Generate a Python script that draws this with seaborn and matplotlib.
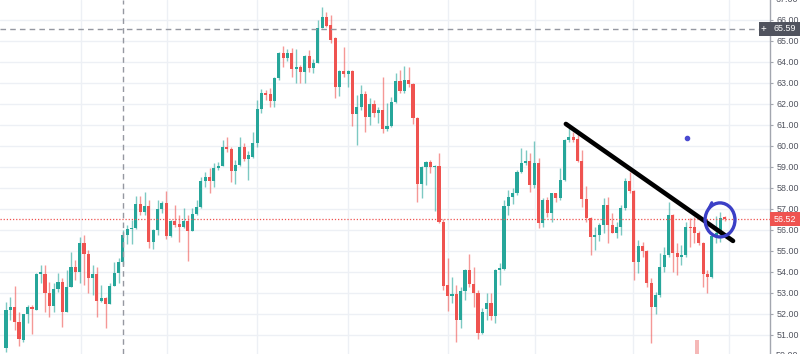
import matplotlib
matplotlib.use("Agg")
import matplotlib.pyplot as plt
from matplotlib.patches import Rectangle, Ellipse
import seaborn as sns
import pandas as pd

# ---- data ----
opens = [50.40, 52.19, 52.35, 51.63, 50.76, 52.00, 52.35, 52.19, 53.89, 53.89,
         53.02, 52.38, 53.19, 53.54, 52.11, 53.27, 54.22, 54.02, 55.37, 54.86,
         53.70, 53.89, 52.63, 52.75, 52.48, 53.33, 53.94, 54.49, 55.76, 56.05,
         56.08, 57.24, 56.84, 57.14, 55.44, 56.00, 56.98, 57.27, 55.71, 56.44,
         56.29, 56.16, 56.44, 55.97, 56.75, 57.08, 58.33, 58.51, 58.35, 58.94,
         59.05, 59.97, 59.86, 58.83, 59.10, 59.97, 59.37, 59.49, 60.16, 61.75,
         62.54, 62.46, 62.16, 63.22, 64.44, 64.20, 64.44, 63.65, 63.78, 63.54,
         64.29, 63.70, 63.97, 65.63, 66.16, 65.76, 65.13, 62.79, 63.59, 63.43,
         63.59, 61.52, 61.84, 62.48, 61.40, 61.98, 61.56, 61.71, 60.79, 60.95,
         62.11, 63.11, 62.63, 63.14, 62.95, 61.32, 58.19, 59.02, 59.25, 59.02,
         59.05, 56.40, 53.38, 52.86, 52.94, 51.71, 53.11, 54.10, 53.43, 53.02,
         51.08, 52.22, 52.54, 51.90, 54.10, 54.14, 57.14, 57.59, 57.75, 58.78,
         59.21, 59.29, 58.14, 59.20, 56.32, 57.43, 56.79, 57.75, 57.51, 58.38,
         60.29, 60.41, 60.32, 59.30, 57.46, 56.56, 55.65, 55.76, 56.24, 57.19,
         56.24, 55.87, 56.14, 57.06, 58.35, 57.87, 54.49, 55.24, 55.02, 53.46,
         52.32, 52.90, 54.25, 54.81, 56.71, 54.92, 54.73, 54.81, 56.16, 56.13,
         55.87, 55.40, 53.90, 53.78, 55.71, 55.87, 56.60]
highs = [52.59, 52.83, 53.33, 52.11, 52.00, 52.43, 52.43, 53.94, 54.33, 54.33,
         53.54, 53.46, 53.94, 53.70, 54.10, 54.97, 54.57, 55.68, 55.76, 55.05,
         54.33, 54.22, 53.38, 52.83, 53.46, 54.49, 54.65, 56.00, 56.24, 56.48,
         57.62, 57.62, 57.79, 57.43, 56.03, 57.43, 57.40, 57.87, 56.48, 57.19,
         56.71, 57.03, 56.71, 57.03, 57.43, 58.51, 58.78, 58.94, 59.17, 59.25,
         60.29, 60.41, 59.97, 59.33, 60.41, 60.16, 59.75, 60.68, 62.19, 62.70,
         62.67, 62.75, 63.27, 64.49, 64.76, 64.60, 64.65, 64.60, 63.86, 64.33,
         64.57, 64.13, 66.00, 66.60, 66.40, 66.24, 65.17, 63.62, 64.73, 63.62,
         63.62, 62.43, 62.90, 62.60, 62.27, 62.19, 61.87, 63.30, 62.03, 62.32,
         63.46, 63.62, 63.81, 63.78, 62.98, 61.37, 59.05, 59.30, 59.33, 59.10,
         59.65, 56.50, 54.65, 53.78, 53.38, 53.27, 54.13, 54.86, 54.25, 53.14,
         52.30, 53.02, 53.02, 54.13, 54.44, 57.43, 57.90, 57.98, 58.86, 59.89,
         59.81, 59.68, 60.25, 59.41, 57.50, 57.56, 57.78, 57.78, 58.94, 60.32,
         60.84, 60.68, 60.57, 59.81, 58.10, 56.63, 56.16, 56.32, 57.51, 57.59,
         56.79, 56.40, 57.19, 58.46, 58.78, 57.90, 55.52, 55.44, 55.05, 53.70,
         53.06, 54.89, 55.21, 57.35, 56.75, 55.40, 55.29, 56.40, 56.56, 56.63,
         55.97, 55.44, 54.10, 55.76, 56.67, 56.87, 56.67]
lows = [50.20, 51.71, 51.24, 50.48, 50.68, 51.56, 51.05, 52.19, 53.46, 52.11,
        51.87, 52.11, 53.05, 51.40, 52.11, 53.27, 53.62, 53.46, 53.38, 52.98,
        52.90, 51.87, 52.59, 51.32, 52.48, 53.33, 53.46, 54.33, 55.33, 55.33,
        56.05, 56.71, 56.71, 55.13, 55.08, 55.76, 56.80, 55.56, 55.68, 56.16,
        55.44, 56.10, 54.54, 55.97, 56.71, 57.03, 58.03, 57.75, 58.06, 58.86,
        59.05, 59.73, 58.30, 58.19, 59.05, 59.30, 58.40, 59.41, 59.97, 61.59,
        62.19, 61.87, 61.84, 63.14, 63.78, 64.06, 63.30, 62.98, 63.02, 63.02,
        63.54, 63.49, 63.94, 65.60, 65.68, 64.89, 62.27, 62.38, 63.30, 62.79,
        60.95, 60.05, 61.70, 60.68, 61.00, 61.40, 61.08, 60.63, 60.73, 60.92,
        62.06, 62.51, 62.51, 62.83, 61.05, 57.35, 57.51, 58.14, 58.70, 56.92,
        56.35, 53.14, 52.16, 52.51, 50.68, 51.32, 52.67, 53.30, 52.35, 50.79,
        51.05, 51.71, 51.71, 51.59, 53.38, 54.10, 56.71, 57.24, 57.68, 58.73,
        59.10, 57.83, 57.98, 56.08, 56.13, 56.63, 56.40, 57.35, 57.43, 58.35,
        60.20, 60.20, 59.25, 57.11, 56.40, 54.81, 55.05, 55.49, 55.84, 55.36,
        55.84, 55.60, 55.76, 56.95, 57.75, 53.62, 53.94, 54.73, 53.30, 50.60,
        52.00, 52.83, 54.00, 54.73, 54.02, 53.86, 54.33, 54.73, 55.21, 55.36,
        55.29, 53.30, 53.02, 53.70, 55.40, 55.44, 56.45]
closes = [52.19, 52.35, 51.63, 50.79, 52.00, 52.35, 52.22, 53.89, 54.00, 52.98,
          52.38, 53.19, 53.54, 52.11, 53.27, 54.22, 54.02, 55.37, 54.86, 53.70,
          53.89, 52.63, 52.75, 52.48, 53.33, 53.94, 54.49, 55.76, 56.05, 56.10,
          57.24, 56.84, 57.14, 55.44, 56.00, 56.98, 57.27, 55.71, 56.44, 56.24,
          56.16, 56.44, 55.97, 56.75, 57.08, 58.33, 58.51, 58.35, 58.94, 59.05,
          59.97, 59.86, 58.83, 59.10, 59.97, 59.37, 59.55, 60.16, 61.75, 62.54,
          62.43, 62.16, 63.22, 64.44, 64.17, 64.44, 63.65, 63.78, 63.54, 64.29,
          63.70, 63.97, 65.63, 66.16, 65.71, 65.05, 62.79, 63.59, 63.43, 63.59,
          61.52, 61.84, 62.48, 61.40, 61.98, 61.56, 61.71, 60.79, 60.95, 62.11,
          63.11, 62.63, 63.14, 62.95, 61.32, 58.19, 59.02, 59.25, 59.02, 59.05,
          56.40, 53.33, 52.86, 52.94, 51.71, 53.11, 54.10, 53.43, 53.02, 51.08,
          52.10, 52.54, 51.90, 54.10, 54.17, 57.14, 57.59, 57.75, 58.78, 59.21,
          59.29, 58.14, 59.17, 56.32, 57.43, 56.79, 57.75, 57.51, 58.38, 60.29,
          60.41, 60.30, 59.30, 57.46, 56.56, 55.65, 55.76, 56.24, 57.19, 56.24,
          55.87, 56.14, 57.06, 58.35, 57.87, 54.49, 55.24, 55.02, 53.46, 52.32,
          52.90, 54.25, 54.81, 56.71, 54.92, 54.73, 54.81, 56.16, 56.08, 55.87,
          55.40, 53.90, 53.78, 55.71, 55.87, 56.56, 56.52]

price_ticks = list(range(51, 67))
price_labels = [f"{p:.2f}" for p in price_ticks]
time_grid = [17.3, 37.2, 58.0, 79.0, 102.1, 122.2, 144.8, 167.0]
crosshair_x = 27.0
crosshair_price = 65.59
last_price = 56.52
trend_x = [129.3, 167.9]
trend_y = [61.05, 55.48]
circle_xy = (164.9, 56.48)
dot_x, dot_y = [157.3], [60.38]
vol_x, vol_top = [159.6], [50.76]

UP, DOWN = "#26a69a", "#ef5350"

sns.set_style("white")
plt.rcParams["font.family"] = ["Liberation Sans", "DejaVu Sans"]

df = pd.DataFrame({"open": opens, "high": highs, "low": lows, "close": closes})
df["idx"] = range(len(df))
df["up"] = df["close"] >= df["open"]
df["color"] = df["up"].map({True: UP, False: DOWN})
df["bottom"] = df[["open", "close"]].min(axis=1)
df["height"] = (df["close"] - df["open"]).abs().clip(lower=0.05)

W, H = 800, 354
fig = plt.figure(figsize=(W / 100, H / 100), dpi=100)
ax = fig.add_axes([0, 0, 770 / W, 1])
ax.set_xlim(-1.386, 176.44)
ax.set_ylim(50.095, 66.952)

# grid
ax.set_yticks(price_ticks)
ax.set_yticklabels(price_labels)
ax.set_xticks(time_grid)
ax.grid(True, color="#edf0f5", linewidth=1, zorder=0)
ax.set_axisbelow(True)
ax.tick_params(axis="x", bottom=False, labelbottom=False)
ax.yaxis.tick_right()
ax.tick_params(axis="y", right=True, left=False, direction="out", length=2.5,
               width=0.8, color="#a3a6af", labelsize=6.4, labelcolor="#50535e", pad=2)
for s in ["top", "left", "bottom"]:
    ax.spines[s].set_visible(False)
ax.spines["right"].set_color("#a3a6af")
ax.spines["right"].set_linewidth(1)

# volume remnant at bottom
ax.bar(vol_x, [t - 49.0 for t in vol_top], bottom=49.0, width=0.85,
       color="#f5b8b7", linewidth=0, zorder=1)

# candles
wick_cols = [(0.149, 0.651, 0.604, 0.6) if u else (0.937, 0.325, 0.314, 0.6) for u in df["up"]]
ax.vlines(df["idx"], df["low"], df["high"], colors=wick_cols, linewidth=1, zorder=2)
ax.bar(df["idx"], df["height"], bottom=df["bottom"], width=0.72,
       color=df["color"], linewidth=0, zorder=3)

# crosshair and last price line
ax.axhline(crosshair_price, color="#9598a1", linewidth=1, dashes=(4, 3), zorder=4)
ax.axvline(crosshair_x, color="#9598a1", linewidth=1, dashes=(4, 3), zorder=4)
ax.axhline(last_price, color=DOWN, linewidth=0.9, dashes=(1, 1.5), zorder=4)

# drawings
sns.lineplot(x=trend_x, y=trend_y, ax=ax, color="black", linewidth=3.3, zorder=6)
for ln in ax.lines[-1:]:
    ln.set_solid_capstyle("round")
ax.add_patch(Ellipse(circle_xy, width=6.9, height=1.62, fill=False,
                     edgecolor="#3b3fc6", linewidth=2.4, zorder=7))
ax.plot([162.4, 163.0], [57.05, 57.3], color="#3b3fc6", linewidth=2.2, zorder=7)
ax.plot(dot_x, dot_y, "o", color="#4a4ad0", markersize=3, zorder=7)

# price scale badges
def ypix(v):
    return 41 + (65 - v) * 21

def badge(v, text, fc, x0=770):
    yc = ypix(v)
    fig.patches.append(Rectangle((x0 / W, 1 - (yc + 7) / H), (W - x0) / W, 14 / H,
                                 transform=fig.transFigure, facecolor=fc,
                                 edgecolor="none", zorder=10))
    fig.text(785 / W, 1 - yc / H, text, ha="center", va="center", color="white",
             fontsize=6.4, zorder=11)

badge(crosshair_price, "65.59", "#50535e", x0=759)
fig.text(763.5 / W, 1 - ypix(crosshair_price) / H, "+", ha="center", va="center",
         color="white", fontsize=7, zorder=11)
badge(last_price, "56.52", DOWN)

# partially visible labels at the edges
for v in (67, 50):
    fig.text(776 / W, 1 - ypix(v) / H, f"{v:.2f}", ha="left", va="center",
             color="#50535e", fontsize=6.4)

fig.savefig("out.png", dpi=100)
